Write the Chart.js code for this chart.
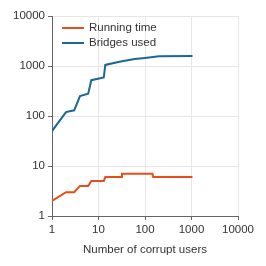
<!DOCTYPE html>
<html>
<head>
<meta charset="utf-8">
<script src="https://cdn.jsdelivr.net/npm/chart.js@4"></script>
<style>
  html, body { margin: 0; padding: 0; background: #fff; }
  #wrap { width: 266px; height: 266px; }
</style>
</head>
<body>
<div id="wrap"><canvas id="chart" width="266" height="266"></canvas></div>
<script>
// values (log-log axes)
let runX = [1, 2, 3, 4, 6, 7, 13, 14, 31, 32, 145, 150, 1050];
let runY = [2, 3, 3, 4, 4, 5, 5, 6, 6, 7, 7, 6, 6];
let bridgeX = [1, 2, 3, 4, 6, 7, 13, 14, 30, 60, 100, 200, 1050];
let bridgeY = [50, 120, 130, 250, 280, 520, 590, 1050, 1230, 1380, 1450, 1560, 1580];
let seriesNames = ['Running time', 'Bridges used'];
let tickValues = [1, 10, 100, 1000, 10000];

function toPoints(xs, ys) {
  return xs.map((x, i) => ({ x: x, y: ys[i] }));
}

let textColor = '#333';
let axisColor = '#666';
let gridColor = '#e6e6e6';
let font = { family: 'Liberation Sans, Arial, sans-serif', size: 11.5 };

// draws the legend inside the plot, top left, with line swatches
let insideLegend = {
  id: 'insideLegend',
  afterDraw(chart) {
    let ctx = chart.ctx;
    let area = chart.chartArea;
    ctx.save();
    ctx.font = '11.5px Liberation Sans, Arial, sans-serif';
    ctx.textBaseline = 'middle';
    chart.data.datasets.forEach((ds, i) => {
      let y = area.top + 12 + i * 15;
      ctx.strokeStyle = ds.borderColor;
      ctx.lineWidth = 2;
      ctx.beginPath();
      ctx.moveTo(area.left + 10, y);
      ctx.lineTo(area.left + 32, y);
      ctx.stroke();
      ctx.fillStyle = textColor;
      ctx.fillText(ds.label, area.left + 37, y);
    });
    ctx.restore();
  }
};

function logAxis(extra) {
  return Object.assign({
    type: 'logarithmic',
    min: 1,
    max: 10000,
    afterBuildTicks: (scale) => {
      scale.ticks = tickValues.map(v => ({ value: v }));
    },
    ticks: {
      color: textColor,
      font: font,
      padding: 3,
      autoSkip: false,
      maxRotation: 0,
      callback: (v) => String(v)
    },
    grid: {
      color: gridColor,
      tickColor: axisColor,
      tickLength: 4,
      lineWidth: 1
    },
    border: { display: true, color: axisColor, width: 1 }
  }, extra);
}

let chart = new Chart(document.getElementById('chart').getContext('2d'), {
  type: 'scatter',
  data: {
    datasets: [{
      label: seriesNames[0],
      data: toPoints(runX, runY),
      showLine: true,
      borderColor: '#e84e1b',
      backgroundColor: '#e84e1b',
      borderWidth: 2,
      pointRadius: 0,
      tension: 0
    }, {
      label: seriesNames[1],
      data: toPoints(bridgeX, bridgeY),
      showLine: true,
      borderColor: '#1b6894',
      backgroundColor: '#1b6894',
      borderWidth: 2,
      pointRadius: 0,
      tension: 0
    }]
  },
  options: {
    responsive: false,
    animation: false,
    layout: { padding: { left: 0, top: 16, right: 28, bottom: 9 } },
    plugins: {
      legend: { display: false },
      tooltip: { enabled: false }
    },
    scales: {
      x: logAxis({
        afterFit: (scale) => { scale.height = 41; },
        title: {
          display: true,
          text: 'Number of corrupt users',
          color: textColor,
          font: font,
          padding: { top: 4, bottom: 0 }
        }
      }),
      y: logAxis({
        afterFit: (scale) => { scale.width = 52; }
      })
    }
  },
  plugins: [insideLegend]
});
</script>
</body>
</html>
